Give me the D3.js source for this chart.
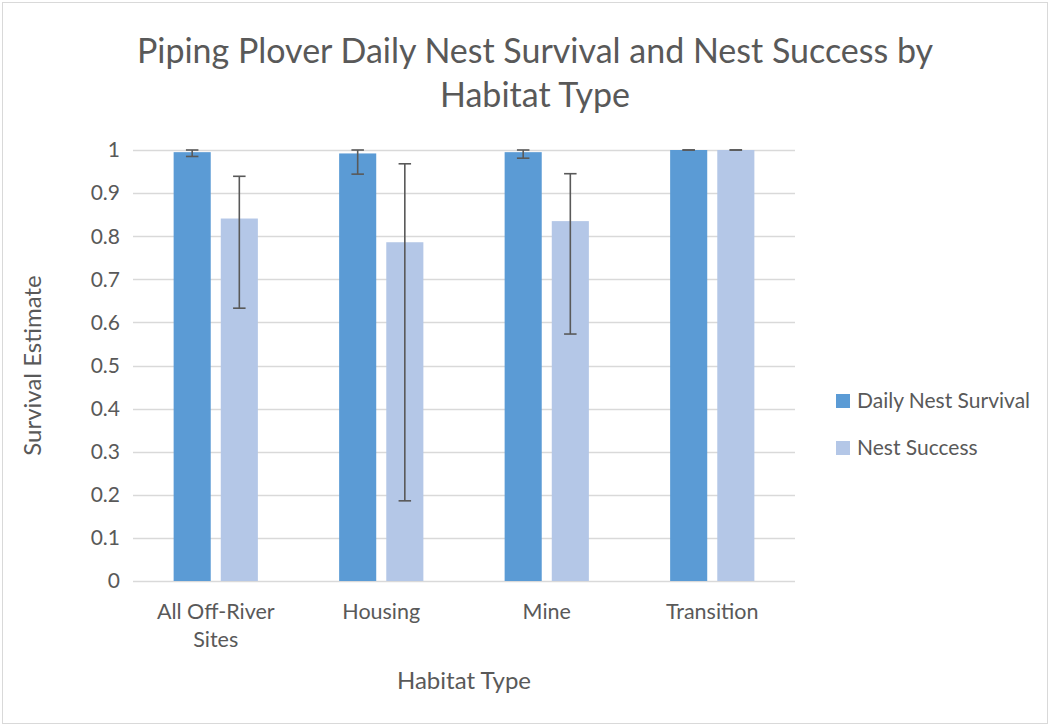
<!DOCTYPE html>
<html>
<head>
<meta charset="utf-8">
<script src="https://cdn.jsdelivr.net/npm/d3@7"></script>
<style>
  body { margin: 0; background: #fff; }
  svg { display: block; font-family: Lato, "Open Sans", sans-serif; }
</style>
</head>
<body>
<svg width="1050" height="726"></svg>
<script>
// data
const categories = ['All Off-River Sites', 'Housing', 'Mine', 'Transition'];
const categoryLines = [['All Off-River', 'Sites'], ['Housing'], ['Mine'], ['Transition']];
const seriesNames = ['Daily Nest Survival', 'Nest Success'];
const dailySurvival = [0.995, 0.992, 0.995, 1.0];
const dailyLower = [0.985, 0.944, 0.981, 1.0];
const dailyUpper = [1.0, 1.0, 1.0, 1.0];
const nestSuccess = [0.841, 0.786, 0.835, 1.0];
const nestLower = [0.633, 0.186, 0.573, 1.0];
const nestUpper = [0.939, 0.968, 0.945, 1.0];
const yTicks = [0, 0.1, 0.2, 0.3, 0.4, 0.5, 0.6, 0.7, 0.8, 0.9, 1];

const svg = d3.select('svg');
const width = +svg.attr('width');
const height = +svg.attr('height');
const textColor = '#595959';
const gridColor = '#d9d9d9';
const colors = ['#5b9bd5', '#b4c7e7'];

const plot = { left: 133, right: 795, top: 150, bottom: 581 };

// chart border
svg.append('rect')
    .attr('x', 2.5).attr('y', 2.5)
    .attr('width', width - 5).attr('height', height - 5)
    .attr('fill', '#fff')
    .attr('stroke', gridColor);

const x = d3.scaleBand().domain(categories).range([plot.left, plot.right]);
const x1 = d3.scaleBand().domain(seriesNames).range([0, x.bandwidth()])
    .paddingInner(0.213).paddingOuter(0.862);
const y = d3.scaleLinear().domain([0, 1]).range([plot.bottom, plot.top]);

// gridlines
svg.append('g')
    .selectAll('line')
    .data(yTicks)
    .join('line')
    .attr('x1', plot.left).attr('x2', plot.right)
    .attr('y1', d => Math.round(y(d)) + 0.5)
    .attr('y2', d => Math.round(y(d)) + 0.5)
    .attr('stroke', gridColor)
    .attr('stroke-width', 1.3);

// y tick labels
svg.append('g')
    .selectAll('text')
    .data(yTicks)
    .join('text')
    .attr('x', 120)
    .attr('y', d => y(d))
    .attr('dy', '0.35em')
    .attr('text-anchor', 'end')
    .attr('fill', textColor)
    .attr('font-size', 21)
    .text(d => d3.format('')(+d.toFixed(1)));

const rows = categories.map((c, i) => ({
    cat: c,
    values: [
        { s: seriesNames[0], v: dailySurvival[i], lo: dailyLower[i], hi: dailyUpper[i] },
        { s: seriesNames[1], v: nestSuccess[i], lo: nestLower[i], hi: nestUpper[i] }
    ]
}));

const groups = svg.append('g')
    .selectAll('g')
    .data(rows)
    .join('g')
    .attr('transform', d => `translate(${x(d.cat)},0)`);

groups.selectAll('rect')
    .data(d => d.values)
    .join('rect')
    .attr('x', d => x1(d.s))
    .attr('y', d => y(d.v))
    .attr('width', x1.bandwidth())
    .attr('height', d => y(0) - y(d.v))
    .attr('fill', (d, i) => colors[i]);

// error bars
const capW = 12.5;
const err = groups.selectAll('g.err')
    .data(d => d.values)
    .join('g')
    .attr('class', 'err')
    .attr('stroke', textColor)
    .attr('stroke-width', 1.6);

err.append('line')
    .attr('x1', d => x1(d.s) + x1.bandwidth() / 2)
    .attr('x2', d => x1(d.s) + x1.bandwidth() / 2)
    .attr('y1', d => y(d.lo))
    .attr('y2', d => y(d.hi));
err.append('line')
    .attr('x1', d => x1(d.s) + x1.bandwidth() / 2 - capW / 2)
    .attr('x2', d => x1(d.s) + x1.bandwidth() / 2 + capW / 2)
    .attr('y1', d => y(d.hi)).attr('y2', d => y(d.hi));
err.append('line')
    .attr('x1', d => x1(d.s) + x1.bandwidth() / 2 - capW / 2)
    .attr('x2', d => x1(d.s) + x1.bandwidth() / 2 + capW / 2)
    .attr('y1', d => y(d.lo)).attr('y2', d => y(d.lo));

// category labels
svg.append('g')
    .selectAll('text')
    .data(categories)
    .join('text')
    .attr('x', d => x(d) + x.bandwidth() / 2)
    .attr('y', 619)
    .attr('text-anchor', 'middle')
    .attr('fill', textColor)
    .attr('font-size', 21.5)
    .each(function (d, i) {
        d3.select(this).selectAll('tspan')
            .data(categoryLines[i])
            .join('tspan')
            .attr('x', x(d) + x.bandwidth() / 2)
            .attr('dy', (t, j) => j === 0 ? 0 : 28)
            .text(t => t);
    });

// axis titles
svg.append('text')
    .attr('x', (plot.left + plot.right) / 2)
    .attr('y', 689)
    .attr('text-anchor', 'middle')
    .attr('fill', textColor)
    .attr('font-size', 24)
    .text('Habitat Type');

svg.append('text')
    .attr('transform', `translate(41,${(plot.top + plot.bottom) / 2}) rotate(-90)`)
    .attr('text-anchor', 'middle')
    .attr('fill', textColor)
    .attr('font-size', 24)
    .text('Survival Estimate');

// title
const title = svg.append('text')
    .attr('text-anchor', 'middle')
    .attr('fill', textColor)
    .attr('font-size', 34);
title.append('tspan').attr('x', 535).attr('y', 63)
    .text('Piping Plover Daily Nest Survival and Nest Success by');
title.append('tspan').attr('x', 535).attr('y', 107)
    .text('Habitat Type');

// legend
const legend = svg.append('g')
    .selectAll('g')
    .data(seriesNames)
    .join('g')
    .attr('transform', (d, i) => `translate(836,${394 + i * 47})`);
legend.append('rect')
    .attr('width', 14).attr('height', 14)
    .attr('fill', (d, i) => colors[i]);
legend.append('text')
    .attr('x', 21)
    .attr('y', 7)
    .attr('dy', '0.35em')
    .attr('fill', textColor)
    .attr('font-size', 21)
    .text(d => d);
</script>
</body>
</html>
